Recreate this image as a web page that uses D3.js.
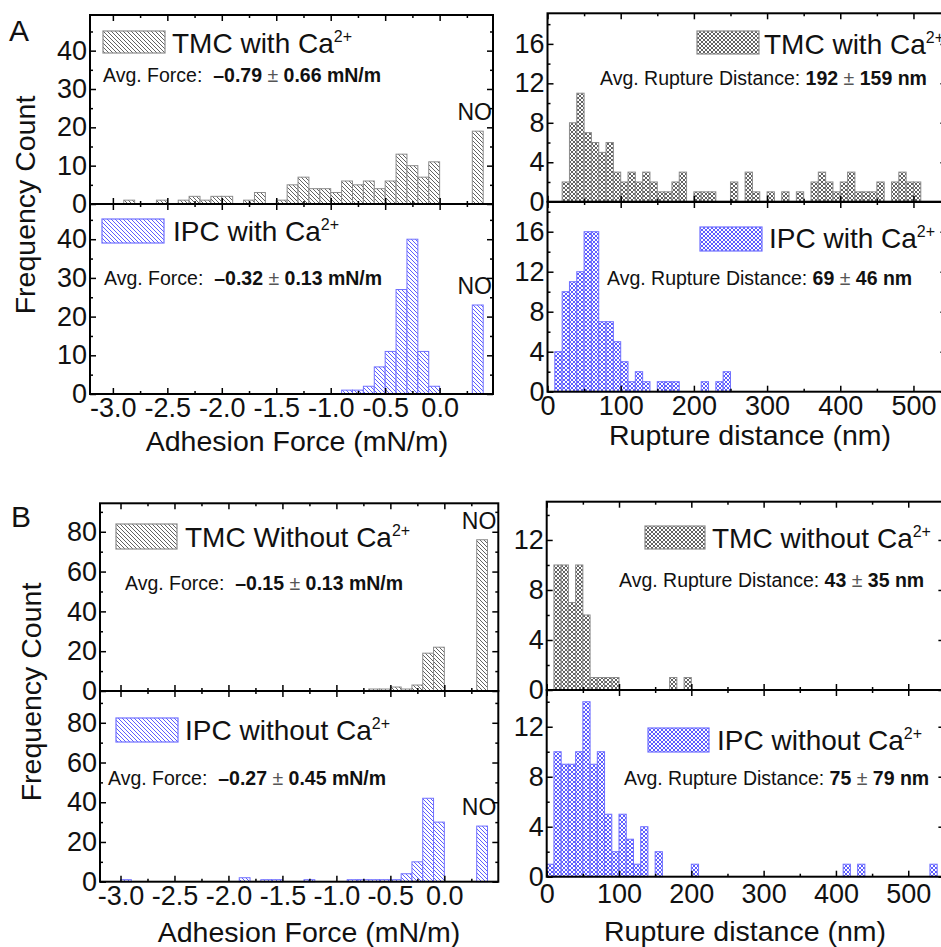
<!DOCTYPE html>
<html>
<head>
<meta charset="utf-8">
<script src="https://cdn.jsdelivr.net/npm/d3@7"></script>
<style>
body { margin: 0; background: #fff; }
svg text { font-family: "Liberation Sans", Arial, Helvetica, sans-serif; fill: #111; }
</style>
</head>
<body>
<svg id="chart" width="941" height="947"></svg>
<script>
// ---- data ----
// adhesion force histograms, 0.1 mN/m bins starting at -3.0
var forceBins = d3.range(30).map(function(i){ return Math.round((-3 + i * 0.1) * 10) / 10; });
var forceTmcCa   = [0,1,0,0,1,0,1,2,1,2, 2,0,1,3,0,1,5,7,4,4, 3,6,5,6,4,6,13,10,7,11];
var forceIpcCa   = [0,0,0,0,0,0,0,0,0,0, 0,0,0,0,0,0,0,0,0,0, 0,1,1,2,7,11,27,40,11,2];
var forceTmcNoCa = [0,0,0,0,0,0,0,0,0,0, 0,0,0,0,0,0,0,0,0,0, 0,0,0,1,1,2,1,3,19,22];
var forceIpcNoCa = [1,0,0,0,0,0,0,0,0,0, 0,2,0,1,1,0,0,1,0,0, 0,1,1,1,1,1,4,10,42,30];
// "NO" (no adhesion) column
var noBinStart = 0.3;
var noCounts = [19, 23, 76, 28];   // TMC Ca, IPC Ca, TMC no Ca, IPC no Ca

// rupture distance histograms, 10 nm bins starting at 0
var distBins = d3.range(55).map(function(i){ return i * 10; });
var distTmcCa = [0,0,2,8,11,7,6,5,6,3, 2,3,2,3,2,1,1,2,3,0, 1,1,1,0,0,2,0,3,1,0,
                 1,0,1,0,1,0,2,3,2,1, 2,3,1,1,1,2,0,2,3,2, 2,0,0,0,0];
var distIpcCa = [0,4,10,11,12,16,16,7,7,5, 3,1,2,1,0,1,1,1,0,0, 0,1,0,1,2,0,0,0,0,0,
                 0,0,0,0,0,0,0,0,0,0, 0,0,0,0,0,0,0,0,0,0, 0,0,0,0,0];
var distTmcNoCa = [0,10,10,7,10,6,1,1,1,1, 0,0,0,0,0,0,0,1,0,1, 0,0,0,0,0,0,0,0,0,0,
                   0,0,0,0,0,0,0,0,0,0, 0,0,0,0,0,0,0,0,0,0, 0,0,0,0,0];
var distIpcNoCa = [1,10,9,9,10,14,9,10,5,2, 5,3,1,4,0,2,0,0,0,0, 1,0,0,0,0,0,0,0,0,0,
                   0,0,0,0,0,0,0,0,0,0, 0,1,0,1,0,0,0,0,0,0, 0,0,0,1,0];

var forceNames = ["TMC with Ca", "IPC with Ca", "TMC Without Ca", "IPC without Ca"];
var distNames  = ["TMC with Ca", "IPC with Ca", "TMC without Ca", "IPC without Ca"];
var forceMeans = ["\u20130.79", "\u20130.32", "\u20130.15", "\u20130.27"];
var forceSds   = ["0.66", "0.13", "0.13", "0.45"];
var distMeans  = ["192", "69", "43", "75"];
var distSds    = ["159", "46", "35", "79"];

var forceTicks = [-3.0, -2.5, -2.0, -1.5, -1.0, -0.5, 0.0];
var forceMinor = [-2.75, -2.25, -1.75, -1.25, -0.75, -0.25, 0.25];
var distTicks = [0, 100, 200, 300, 400, 500];
var distMinor = [50, 150, 250, 350, 450, 550];

// ---- drawing ----
var svg = d3.select("#chart");
var defs = svg.append("defs");

var look = {
  tmc: { line: "#3a3a3a", edge: "#8c8c8c" },
  ipc: { line: "#3434ff", edge: "#7070ff" }
};

function addPattern(id, color, cross) {
  var p = defs.append("pattern").attr("id", id)
    .attr("patternUnits", "userSpaceOnUse")
    .attr("width", 4).attr("height", 4);
  p.append("rect").attr("width", 4).attr("height", 4).attr("fill", "#fff");
  var d = "M-1,-1L5,5M-1,3L1,5M3,-1L5,1";
  if (cross) d += "M-1,5L5,-1M-1,1L1,-1M3,5L5,3";
  p.append("path").attr("d", d).attr("fill", "none")
    .attr("stroke", color).attr("stroke-width", 0.8);
}
addPattern("diag-tmc", look.tmc.line, false);
addPattern("diag-ipc", look.ipc.line, false);
addPattern("cross-tmc", look.tmc.line, true);
addPattern("cross-ipc", look.ipc.line, true);

function fmtForce(v){ return v.toFixed(1); }

function panel(o) {
  var x = d3.scaleLinear().domain(o.xDomain).range([o.left, o.right]);
  var y = d3.scaleLinear().domain([0, o.yMax]).range([o.bottom, o.top]);
  var st = look[o.kind];
  var fill = "url(#" + o.pattern + "-" + o.kind + ")";

  var bars = o.bins.map(function(b, i){ return { x0: b, x1: b + o.binW, n: o.counts[i] }; })
    .filter(function(d){ return d.n > 0; });

  svg.append("g").selectAll("rect").data(bars).join("rect")
    .attr("x", function(d){ return x(d.x0); })
    .attr("width", function(d){ return x(d.x1) - x(d.x0); })
    .attr("y", function(d){ return y(d.n); })
    .attr("height", function(d){ return y(0) - y(d.n); })
    .attr("fill", fill).attr("stroke", st.edge).attr("stroke-width", 1);

  if (o.no != null) {
    svg.append("rect")
      .attr("x", x(noBinStart)).attr("width", x(noBinStart + o.binW) - x(noBinStart))
      .attr("y", y(o.no)).attr("height", y(0) - y(o.no))
      .attr("fill", fill).attr("stroke", st.edge).attr("stroke-width", 1);
    svg.append("text")
      .attr("x", x(noBinStart + o.binW / 2) - 3).attr("y", y(o.no) - 11)
      .attr("text-anchor", "middle").style("font-size", "23px").text("NO");
  }

  // ticks, all pointing inward
  function clean(sel){ sel.select(".domain").remove(); sel.selectAll("line").attr("stroke", "#000").attr("stroke-width", 1.5); }
  var fs = "27px";
  var xb = svg.append("g").attr("transform", "translate(0," + o.bottom + ")")
    .call(d3.axisBottom(x).tickValues(o.xTicks).tickSize(-6).tickPadding(o.xPad || 4)
      .tickFormat(o.xLabels ? o.xFmt : ""));
  clean(xb); xb.selectAll("text").style("font-size", fs).attr("fill", "#111");
  clean(svg.append("g").attr("transform", "translate(0," + o.bottom + ")")
    .call(d3.axisBottom(x).tickValues(o.xMinor).tickSize(-3).tickFormat("")));
  clean(svg.append("g").attr("transform", "translate(0," + o.top + ")")
    .call(d3.axisTop(x).tickValues(o.xTicks).tickSize(-6).tickFormat("")));
  clean(svg.append("g").attr("transform", "translate(0," + o.top + ")")
    .call(d3.axisTop(x).tickValues(o.xMinor).tickSize(-3).tickFormat("")));

  var yl = svg.append("g").attr("transform", "translate(" + o.left + ",0)")
    .call(d3.axisLeft(y).tickValues(o.yTicks).tickSize(-6).tickPadding(3).tickFormat(d3.format("d")));
  clean(yl); yl.selectAll("text").style("font-size", fs).attr("fill", "#111");
  clean(svg.append("g").attr("transform", "translate(" + o.left + ",0)")
    .call(d3.axisLeft(y).tickValues(o.yMinor).tickSize(-3).tickFormat("")));
  clean(svg.append("g").attr("transform", "translate(" + o.right + ",0)")
    .call(d3.axisRight(y).tickValues(o.yTicks).tickSize(-6).tickFormat("")));
  clean(svg.append("g").attr("transform", "translate(" + o.right + ",0)")
    .call(d3.axisRight(y).tickValues(o.yMinor).tickSize(-3).tickFormat("")));

  svg.append("rect")
    .attr("x", o.left).attr("y", o.top)
    .attr("width", o.right - o.left).attr("height", o.bottom - o.top)
    .attr("fill", "none").attr("stroke", "#000").attr("stroke-width", 2);

  // legend swatch + label
  var s = o.swatch;
  svg.append("rect").attr("x", s[0]).attr("y", s[1]).attr("width", s[2]).attr("height", s[3])
    .attr("fill", fill).attr("stroke", st.edge).attr("stroke-width", 1.2);
  var lt = svg.append("text").attr("x", o.nameAt[0]).attr("y", o.nameAt[1]).style("font-size", "28px");
  lt.append("tspan").text(o.name);
  lt.append("tspan").attr("dy", -11).style("font-size", "16px").text("2+");

  var at = svg.append("text").attr("x", o.avgAt[0]).attr("y", o.avgAt[1])
    .style("font-size", "19.5px").style("white-space", "pre");
  at.append("tspan").text(o.avgLabel);
  at.append("tspan").attr("font-weight", "bold").text(o.mean);
  at.append("tspan").attr("fill", "#555").text(" \u00b1 ");
  at.append("tspan").attr("font-weight", "bold").text(o.sd + " " + o.unit);
}

var forceAxis = { xTicks: forceTicks, xMinor: forceMinor, xFmt: fmtForce, bins: forceBins, binW: 0.1,
                  pattern: "diag", avgLabel: "Avg. Force:  ", unit: "mN/m" };
var distAxis = { xTicks: distTicks, xMinor: distMinor, xFmt: d3.format("d"), bins: distBins, binW: 10,
                 pattern: "cross", avgLabel: "Avg. Rupture Distance: ", unit: "nm" };

function cfg(base, extra) { return Object.assign({}, base, extra); }

// ---- A: with Ca2+ ----
panel(cfg(forceAxis, { left: 90, right: 493, top: 15, bottom: 204, xDomain: [-3.21, 0.49],
  yMax: 49.3, yTicks: [0, 10, 20, 30, 40], yMinor: [5, 15, 25, 35, 45], xLabels: false,
  counts: forceTmcCa, no: noCounts[0], kind: "tmc", name: forceNames[0],
  swatch: [103, 31, 62, 22], nameAt: [172, 53], avgAt: [103, 82], mean: forceMeans[0], sd: forceSds[0] }));
panel(cfg(forceAxis, { left: 90, right: 493, top: 204, bottom: 394, xDomain: [-3.21, 0.49],
  yMax: 49.1, yTicks: [0, 10, 20, 30, 40], yMinor: [5, 15, 25, 35, 45], xLabels: true,
  counts: forceIpcCa, no: noCounts[1], kind: "ipc", name: forceNames[1],
  swatch: [102, 219, 62, 24], nameAt: [173, 241], avgAt: [104, 285], mean: forceMeans[1], sd: forceSds[1] }));
panel(cfg(distAxis, { left: 547.5, right: 946.4, top: 13.3, bottom: 201.7, xDomain: [0, 545],
  yMax: 19.1, yTicks: [0, 4, 8, 12, 16], yMinor: [2, 6, 10, 14, 18], xLabels: false,
  counts: distTmcCa, kind: "tmc", name: distNames[0],
  swatch: [697, 31, 62, 23], nameAt: [764, 54], avgAt: [600, 85], mean: distMeans[0], sd: distSds[0] }));
panel(cfg(distAxis, { left: 547.5, right: 946.4, top: 202, bottom: 391.7, xDomain: [0, 545],
  yMax: 18.97, yTicks: [0, 4, 8, 12, 16], yMinor: [2, 6, 10, 14, 18], xLabels: true,
  counts: distIpcCa, kind: "ipc", name: distNames[1],
  swatch: [700, 227, 62, 24], nameAt: [769, 248], avgAt: [607, 285], mean: distMeans[1], sd: distSds[1] }));

// ---- B: without Ca2+ ----
panel(cfg(forceAxis, { left: 100, right: 498.3, top: 503.3, bottom: 691, xDomain: [-3.19, 0.5],
  yMax: 94.3, yTicks: [0, 20, 40, 60, 80], yMinor: [10, 30, 50, 70, 90], xLabels: false,
  counts: forceTmcNoCa, no: noCounts[2], kind: "tmc", name: forceNames[2],
  swatch: [116, 524, 61, 25], nameAt: [185, 547], avgAt: [125, 590], mean: forceMeans[2], sd: forceSds[2] }));
panel(cfg(forceAxis, { left: 100, right: 498.3, top: 691, bottom: 881.7, xDomain: [-3.19, 0.5],
  yMax: 96, yTicks: [0, 20, 40, 60, 80], yMinor: [10, 30, 50, 70, 90], xLabels: true,
  counts: forceIpcNoCa, no: noCounts[3], kind: "ipc", name: forceNames[3],
  swatch: [116, 718, 62, 24], nameAt: [185, 740], avgAt: [108, 785], mean: forceMeans[3], sd: forceSds[3] }));
panel(cfg(distAxis, { left: 546.7, right: 944.4, top: 501.7, bottom: 690, xDomain: [0, 550],
  yMax: 15.06, yTicks: [0, 4, 8, 12], yMinor: [2, 6, 10, 14], xLabels: false,
  counts: distTmcNoCa, kind: "tmc", name: distNames[2],
  swatch: [645, 526, 60, 23], nameAt: [712, 548], avgAt: [619, 587], mean: distMeans[2], sd: distSds[2] }));
panel(cfg(distAxis, { left: 546.7, right: 944.4, top: 690, bottom: 876.7, xDomain: [0, 550],
  yMax: 14.94, yTicks: [0, 4, 8, 12], yMinor: [2, 6, 10, 14], xLabels: true, xPad: 7,
  counts: distIpcNoCa, kind: "ipc", name: distNames[3],
  swatch: [648, 728, 61, 24], nameAt: [717, 750], avgAt: [624, 785], mean: distMeans[3], sd: distSds[3] }));

// ---- titles ----
function title(txt, x, y, rot) {
  svg.append("text").attr("transform", "translate(" + x + "," + y + ")" + (rot ? " rotate(-90)" : ""))
    .attr("text-anchor", "middle").style("font-size", "28.5px").text(txt);
}
title("Frequency Count", 35, 205, true);
title("Frequency Count", 41, 692, true);
title("Adhesion Force (mN/m)", 297, 451);
title("Adhesion Force (mN/m)", 309, 942);
title("Rupture distance (nm)", 750, 445);
title("Rupture distance (nm)", 745, 941);

svg.append("text").attr("x", 9).attr("y", 41).style("font-size", "30px").text("A");
svg.append("text").attr("x", 11).attr("y", 527).style("font-size", "30px").text("B");
</script>
</body>
</html>
